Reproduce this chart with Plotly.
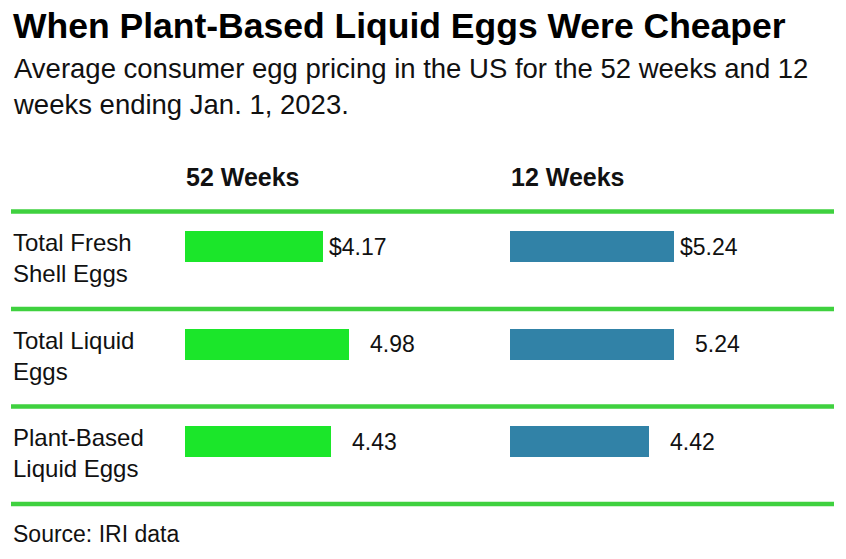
import plotly.graph_objects as go

# ---- data ----
categories = ["Total Fresh<br>Shell Eggs", "Total Liquid<br>Eggs", "Plant-Based<br>Liquid Eggs"]
values_52 = [4.17, 4.98, 4.43]
values_12 = [5.24, 5.24, 4.42]
labels_52 = ["$4.17", "4.98", "4.43"]
labels_12 = ["$5.24", "5.24", "4.42"]
column_titles = ["52 Weeks", "12 Weeks"]
title = "When Plant-Based Liquid Eggs Were Cheaper"
subtitle = "Average consumer egg pricing in the US for the 52 weeks and 12<br>weeks ending Jan. 1, 2023."
source = "Source: IRI data"

W, H = 846, 559
OX, OY = 0, 0  # body margin removed below
FONT = "Liberation Sans, Arial, Helvetica, sans-serif"
GREEN_BAR = "#1be62a"
BLUE_BAR = "#3182a7"
RULE = "#3fd13f"
INK = "#111111"


def px(p):
    return (p - OX) / W


def py(p):
    return 1 - (p - OY) / H


idx = list(range(len(categories)))

fig = go.Figure()
fig.add_trace(go.Bar(
    x=values_52, y=idx, orientation="h", xaxis="x", yaxis="y",
    marker=dict(color=GREEN_BAR, line=dict(width=0)), width=0.318,
    hoverinfo="skip", showlegend=False,
))
fig.add_trace(go.Bar(
    x=values_12, y=idx, orientation="h", xaxis="x2", yaxis="y",
    marker=dict(color=BLUE_BAR, line=dict(width=0)), width=0.318,
    hoverinfo="skip", showlegend=False,
))

# y axis: row index 0 at pixel 246.5, 97.5 px per row
top_px, bot_px = 200, 500
ppu = 97.5
v_top = (top_px - 246.5) / ppu
v_bot = (bot_px - 246.5) / ppu

# x axes
x1_left, x1_len, x1_ppu = 185, 300, 32.99
x2_left, x2_len, x2_ppu = 510, 300, 31.34

annotations = []
# title & subtitle
annotations.append(dict(text=f"<b>{title}</b>", x=px(11), y=py(26), xref="paper", yref="paper",
                        xanchor="left", yanchor="middle", showarrow=False,
                        font=dict(family=FONT, size=35.5, color="#000000")))
annotations.append(dict(text=subtitle, x=px(11), y=py(86), xref="paper", yref="paper",
                        xanchor="left", yanchor="middle", align="left", showarrow=False,
                        font=dict(family=FONT, size=27.5, color=INK)))
# column headers
for t, xl in zip(column_titles, [x1_left, x2_left]):
    annotations.append(dict(text=f"<b>{t}</b>", x=px(xl - 1), y=py(176.5), xref="paper", yref="paper",
                            xanchor="left", yanchor="middle", showarrow=False,
                            font=dict(family=FONT, size=25, color=INK)))
# row labels
for i, c in enumerate(categories):
    annotations.append(dict(text=c, x=px(11), y=i + (258 - 246.5) / ppu, xref="paper", yref="y",
                            xanchor="left", yanchor="middle", align="left", showarrow=False,
                            font=dict(family=FONT, size=24, color=INK)))
# value labels
for xr, vals, labs in [("x", values_52, labels_52), ("x2", values_12, labels_12)]:
    for i, (v, lab) in enumerate(zip(vals, labs)):
        annotations.append(dict(text=lab, x=v, y=i, xref=xr, yref="y",
                                xanchor="left", yanchor="middle", showarrow=False,
                                xshift=4 if lab.startswith("$") else 19,
                                font=dict(family=FONT, size=23, color=INK)))
# source
annotations.append(dict(text=source, x=px(11), y=py(533.5), xref="paper", yref="paper",
                        xanchor="left", yanchor="middle", showarrow=False,
                        font=dict(family=FONT, size=23, color=INK)))

# horizontal rules
shapes = []
for yp in [211.5, 309, 406.5, 504]:
    shapes.append(dict(type="line", xref="paper", yref="paper", x0=px(11), x1=px(834),
                       y0=py(yp), y1=py(yp), line=dict(color=RULE, width=4.5)))

fig.update_layout(
    width=W, height=H,
    margin=dict(l=0, r=0, t=0, b=0),
    paper_bgcolor="white", plot_bgcolor="white",
    xaxis=dict(domain=[px(x1_left), px(x1_left + x1_len)], range=[0, x1_len / x1_ppu],
               visible=False, fixedrange=True),
    xaxis2=dict(domain=[px(x2_left), px(x2_left + x2_len)], range=[0, x2_len / x2_ppu],
                visible=False, fixedrange=True, anchor="y"),
    yaxis=dict(domain=[py(bot_px), py(top_px)], range=[v_bot, v_top], visible=False, fixedrange=True),
    annotations=annotations,
    shapes=shapes,
    bargap=0,
)

fig.write_html("out.html", config={"displayModeBar": False},
               post_script="document.body.style.margin='0';")
